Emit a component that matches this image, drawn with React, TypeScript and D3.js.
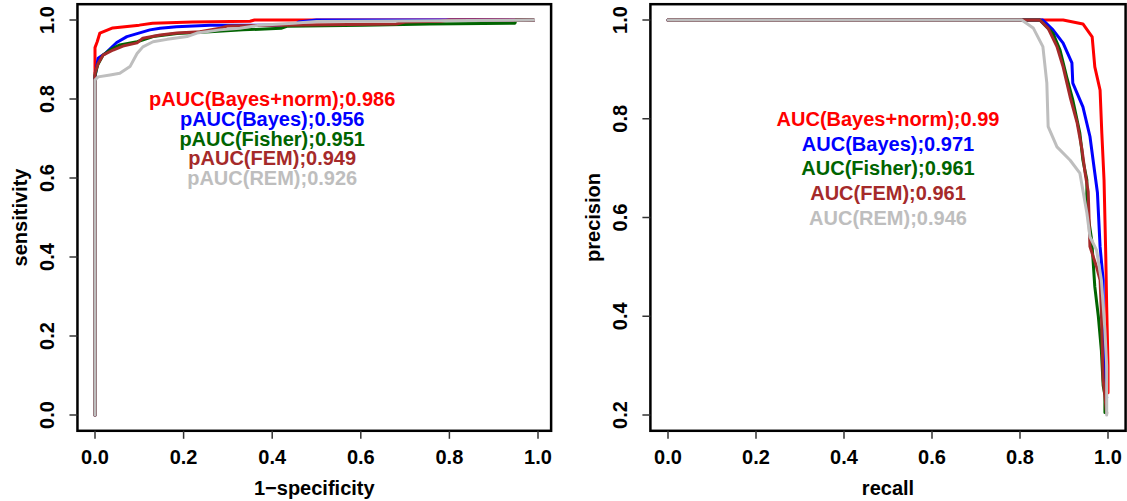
import React from 'react';
import * as d3 from 'd3';

const width = 1127;
const height = 501;
const font = '"Liberation Sans", Arial, Helvetica, sans-serif';

const seriesNames = ['Bayes+norm', 'Bayes', 'Fisher', 'FEM', 'REM'];
const seriesColors = ['#ff0000', '#0000ff', '#006400', '#a52a2a', '#bebebe'];
const pAUC = ['0.986', '0.956', '0.951', '0.949', '0.926'];
const AUC = ['0.99', '0.971', '0.961', '0.961', '0.946'];
const labelY = [0.8, 0.75, 0.7, 0.65, 0.6];

const xTicks = [0, 0.2, 0.4, 0.6, 0.8, 1.0];
const rocYTicks = [0, 0.2, 0.4, 0.6, 0.8, 1.0];
const prYTicks = [0.2, 0.4, 0.6, 0.8, 1.0];

// ROC curves (1-specificity, sensitivity)
const fprBayesNorm = [0, 0, 0.005, 0.011, 0.04, 0.1, 0.13, 0.22, 0.35, 0.36, 0.99];
const tprBayesNorm = [0, 0.93, 0.945, 0.967, 0.98, 0.987, 0.992, 0.995, 0.997, 1.0, 1.0];
const fprBayes = [0, 0, 0.007, 0.023, 0.049, 0.072, 0.097, 0.124, 0.147, 0.184, 0.26, 0.45, 0.46, 0.5, 0.99];
const tprBayes = [0, 0.856, 0.903, 0.915, 0.943, 0.958, 0.966, 0.975, 0.979, 0.983, 0.987, 0.987, 0.995, 1.0, 1.0];
const fprFisher = [0, 0, 0.006, 0.018, 0.034, 0.056, 0.095, 0.131, 0.185, 0.26, 0.334, 0.42, 0.433, 0.605, 0.756, 0.948, 0.95, 0.99];
const tprFisher = [0, 0.86, 0.886, 0.911, 0.924, 0.937, 0.945, 0.958, 0.966, 0.97, 0.975, 0.979, 0.984, 0.987, 0.99, 0.992, 1.0, 1.0];
const fprFEM = [0, 0, 0.007, 0.018, 0.041, 0.063, 0.095, 0.108, 0.147, 0.185, 0.237, 0.282, 0.3, 0.68, 0.7, 0.78, 0.8, 0.99];
const tprFEM = [0, 0.866, 0.89, 0.911, 0.924, 0.934, 0.942, 0.954, 0.962, 0.967, 0.97, 0.979, 0.985, 0.99, 0.995, 0.997, 1.0, 1.0];
const fprREM = [0, 0, 0.007, 0.034, 0.056, 0.079, 0.095, 0.108, 0.131, 0.163, 0.208, 0.23, 0.282, 0.327, 0.372, 0.447, 0.5, 0.99];
const tprREM = [0, 0.848, 0.856, 0.861, 0.865, 0.882, 0.915, 0.932, 0.945, 0.951, 0.958, 0.967, 0.975, 0.979, 0.987, 0.992, 0.996, 1.0];

// precision-recall curves
const recBayesNorm = [0, 0.898, 0.943, 0.964, 0.97, 0.982, 0.986, 0.991, 0.995, 0.997, 1.0, 1.0];
const preBayesNorm = [1, 1, 0.992, 0.966, 0.905, 0.858, 0.77, 0.676, 0.52, 0.419, 0.3, 0.245];
const recBayes = [0, 0.852, 0.875, 0.898, 0.918, 0.92, 0.943, 0.959, 0.97, 0.976, 0.982, 0.989, 0.989, 0.993, 0.997];
const preBayes = [1, 1, 0.98, 0.953, 0.913, 0.872, 0.824, 0.764, 0.69, 0.65, 0.541, 0.473, 0.352, 0.257, 0.235];
const recFisher = [0, 0.845, 0.875, 0.891, 0.906, 0.92, 0.936, 0.943, 0.952, 0.952, 0.963, 0.97, 0.978, 0.985, 0.989, 0.993, 0.993];
const preFisher = [1, 1, 0.973, 0.939, 0.885, 0.838, 0.771, 0.716, 0.676, 0.62, 0.554, 0.46, 0.4, 0.33, 0.26, 0.24, 0.205];
const recFEM = [0, 0.845, 0.864, 0.884, 0.898, 0.914, 0.93, 0.941, 0.948, 0.955, 0.959, 0.974, 0.982, 0.985, 0.989, 0.997];
const preFEM = [1, 1, 0.983, 0.946, 0.905, 0.844, 0.791, 0.737, 0.69, 0.652, 0.541, 0.5, 0.473, 0.406, 0.271, 0.204];
const recREM = [0, 0.804, 0.83, 0.852, 0.861, 0.864, 0.884, 0.914, 0.936, 0.952, 0.959, 0.974, 0.985, 0.993, 0.997, 0.997];
const preREM = [1, 1, 0.984, 0.946, 0.872, 0.784, 0.743, 0.716, 0.69, 0.609, 0.561, 0.534, 0.473, 0.372, 0.3, 0.2];

const rocX = [fprBayesNorm, fprBayes, fprFisher, fprFEM, fprREM];
const rocY = [tprBayesNorm, tprBayes, tprFisher, tprFEM, tprREM];
const prX = [recBayesNorm, recBayes, recFisher, recFEM, recREM];
const prY = [preBayesNorm, preBayes, preFisher, preFEM, preREM];

const zip = (xs: number[], ys: number[]) => xs.map((x, i) => [x, ys[i]] as [number, number]);

type PanelProps = {
  x: d3.ScaleLinear<number, number>;
  y: d3.ScaleLinear<number, number>;
  xDom: [number, number];
  yDom: [number, number];
  yTicks: number[];
  xs: number[][];
  ys: number[][];
  labels: string[];
  labelX: number;
  xTitle: string;
  yTitle: string;
};

function Panel({ x, y, xDom, yDom, yTicks, xs, ys, labels, labelX, xTitle, yTitle }: PanelProps) {
  const line = d3.line<[number, number]>().x((d) => x(d[0])).y((d) => y(d[1]));
  const left = x(xDom[0]);
  const right = x(xDom[1]);
  const top = y(yDom[1]);
  const bottom = y(yDom[0]);
  const fmt = d3.format('.1f');
  return (
    <g>
      {xs.map((xv, i) => (
        <path key={i} d={line(zip(xv, ys[i])) || ''} fill="none" stroke={seriesColors[i]}
          strokeWidth={3} strokeLinejoin="round" strokeLinecap="round" />
      ))}
      {labels.map((t, i) => (
        <text key={t} x={x(labelX)} y={y(labelY[i])} dy="0.36em" textAnchor="middle"
          fill={seriesColors[i]} fontSize={20} fontWeight="bold" fontFamily={font}>{t}</text>
      ))}
      <rect x={left} y={top} width={right - left} height={bottom - top} fill="none" stroke="#000" strokeWidth={2.5} />
      {xTicks.map((t) => (
        <g key={t}>
          <line x1={x(t)} x2={x(t)} y1={bottom} y2={bottom + 8} stroke="#333" strokeWidth={1.5} />
          <text x={x(t)} y={bottom + 26} dy="0.36em" textAnchor="middle" fontSize={20} fontWeight="bold" fontFamily={font}>{fmt(t)}</text>
        </g>
      ))}
      {yTicks.map((t) => (
        <g key={t}>
          <line x1={left - 8} x2={left} y1={y(t)} y2={y(t)} stroke="#333" strokeWidth={1.5} />
          <text transform={`translate(${left - 31},${y(t)}) rotate(-90)`} dy="0.36em" textAnchor="middle"
            fontSize={20} fontWeight="bold" fontFamily={font}>{fmt(t)}</text>
        </g>
      ))}
      <text x={(left + right) / 2} y={bottom + 57} dy="0.36em" textAnchor="middle" fontSize={20} fontWeight="bold" fontFamily={font}>{xTitle}</text>
      <text transform={`translate(${left - 58},${(top + bottom) / 2}) rotate(-90)`} dy="0.36em" textAnchor="middle"
        fontSize={20} fontWeight="bold" fontFamily={font}>{yTitle}</text>
    </g>
  );
}

export default function App() {
  // R style: axis range = data range padded by 4%
  const xL = d3.scaleLinear().domain([0, 1]).range([95, 538]);
  const yL = d3.scaleLinear().domain([0, 1]).range([415, 20]);
  const xR = d3.scaleLinear().domain([0, 1]).range([668, 1108]);
  const yR = d3.scaleLinear().domain([0.2, 1]).range([415, 20]);

  const rocLabels = seriesNames.map((n, i) => `pAUC(${n});${pAUC[i]}`);
  const prLabels = seriesNames.map((n, i) => `AUC(${n});${AUC[i]}`);

  return (
    <svg width={width} height={height} style={{ position: 'absolute', left: 0, top: 0, background: '#fff' }}>
      <Panel x={xL} y={yL} xDom={[-0.0396, 1.0296]} yDom={[-0.04, 1.04]} yTicks={rocYTicks}
        xs={rocX} ys={rocY} labels={rocLabels} labelX={0.4} xTitle="1−specificity" yTitle="sensitivity" />
      <Panel x={xR} y={yR} xDom={[-0.04, 1.04]} yDom={[0.168, 1.032]} yTicks={prYTicks}
        xs={prX} ys={prY} labels={prLabels} labelX={0.5} xTitle="recall" yTitle="precision" />
    </svg>
  );
}
